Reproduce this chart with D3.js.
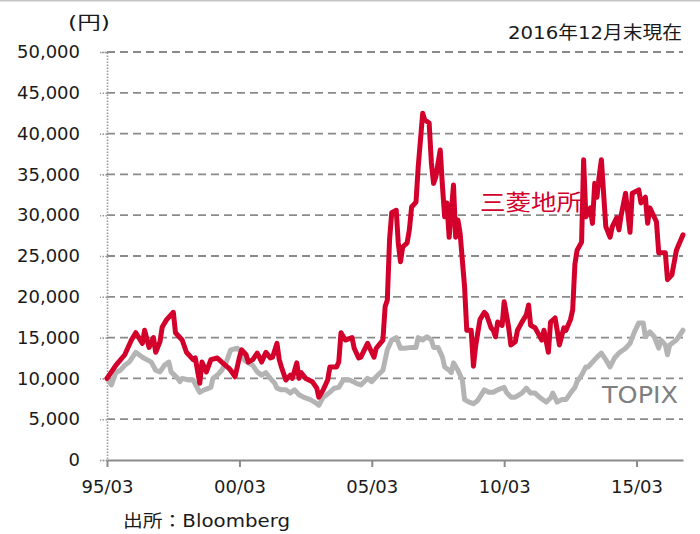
<!DOCTYPE html>
<html>
<head>
<meta charset="utf-8">
<script src="https://cdn.jsdelivr.net/npm/d3@7/dist/d3.min.js"></script>
<style>
  html, body { margin: 0; padding: 0; background: #fff; }
  svg { display: block; font-family: "DejaVu Sans", "Noto Sans CJK JP", sans-serif; }
</style>
</head>
<body>
<svg id="chart" width="700" height="534"></svg>
<script>
// ---- data ----
const estateLabel = "三菱地所";
const topixLabel = "TOPIX";
const unitLabel = "(円)";
const asOfLabel = "2016年12月末現在";
const sourceLabel = "出所：Bloomberg";

const yTicks = [0, 5000, 10000, 15000, 20000, 25000, 30000, 35000, 40000, 45000, 50000];
const xTicks = ["1995-03", "2000-03", "2005-03", "2010-03", "2015-03"];

const estateSeries = [
["1995-03",10000],["1995-07",11600],["1995-11",12900],["1996-02",14700],["1996-04",15600],["1996-07",14300],["1996-08",15900],["1996-10",13800],["1996-12",15000],["1997-01",13200],["1997-03",14500],["1997-04",16300],["1997-06",17200],["1997-09",18100],["1997-10",15600],["1998-01",14700],["1998-03",13200],["1998-06",12300],["1998-07",12500],["1998-09",9400],["1998-10",12000],["1998-12",10800],["1999-02",12300],["1999-05",12500],["1999-07",12000],["1999-10",11300],["1999-11",11000],["2000-01",10200],["2000-03",12600],["2000-04",13500],["2000-06",12900],["2000-07",12000],["2000-09",12300],["2000-11",13100],["2000-12",12600],["2001-01",12000],["2001-03",13200],["2001-05",12500],["2001-06",12600],["2001-08",14300],["2001-09",12300],["2001-10",11400],["2001-12",9800],["2002-02",10400],["2002-03",10000],["2002-05",11900],["2002-06",10000],["2002-07",10700],["2002-09",10000],["2002-12",9600],["2003-02",8800],["2003-03",7700],["2003-05",8600],["2003-07",9800],["2003-08",11400],["2003-11",11400],["2003-12",12000],["2004-01",15600],["2004-03",14700],["2004-06",15000],["2004-07",13700],["2004-09",12500],["2004-10",12600],["2005-01",14300],["2005-02",13700],["2005-04",12600],["2005-05",13700],["2005-08",14700],["2005-09",18800],["2005-10",19600],["2005-11",27000],["2005-12",30300],["2006-02",30600],["2006-03",26600],["2006-04",24300],["2006-05",26100],["2006-07",26600],["2006-08",28200],["2006-09",31000],["2006-11",31600],["2006-12",35900],["2007-02",42500],["2007-03",41700],["2007-05",41300],["2007-06",36400],["2007-07",33900],["2007-08",34700],["2007-10",38000],["2007-11",33500],["2007-12",29800],["2008-01",31500],["2008-02",27300],["2008-03",30300],["2008-04",33700],["2008-05",27300],["2008-06",29400],["2008-07",27800],["2008-09",21200],["2008-10",15900],["2008-12",15900],["2009-01",11500],["2009-02",14000],["2009-04",17200],["2009-06",18100],["2009-07",17800],["2009-09",16200],["2009-10",15900],["2009-11",15100],["2009-12",16900],["2010-02",16500],["2010-03",19400],["2010-05",16300],["2010-06",14100],["2010-08",14500],["2010-09",15900],["2010-11",16900],["2011-01",17800],["2011-02",19000],["2011-03",16500],["2011-05",16200],["2011-06",15700],["2011-08",14700],["2011-09",15900],["2011-11",13200],["2011-12",16900],["2012-02",17400],["2012-03",15900],["2012-04",14100],["2012-06",16200],["2012-07",15900],["2012-09",17200],["2012-10",18400],["2012-11",24000],["2012-12",25700],["2013-02",26700],["2013-03",36800],["2013-04",29800],["2013-06",30900],["2013-07",29000],["2013-08",33900],["2013-09",32200],["2013-10",34700],["2013-11",36800],["2014-01",28600],["2014-03",27300],["2014-04",28600],["2014-06",29700],["2014-07",28200],["2014-08",30000],["2014-10",32700],["2014-12",27900],["2015-01",32700],["2015-04",33100],["2015-05",31500],["2015-07",32200],["2015-08",29000],["2015-09",30900],["2015-12",29200],["2016-01",25400],["2016-04",25400],["2016-05",22100],["2016-07",22700],["2016-09",25700],["2016-12",27600]
];

const topixSeries = [
["1995-03",10000],["1995-05",9200],["1995-07",10700],["1995-09",11000],["1995-11",11600],["1996-01",12000],["1996-04",13200],["1996-07",12600],["1996-09",12300],["1996-11",12000],["1997-01",11000],["1997-03",10800],["1997-05",11600],["1997-07",12000],["1997-08",10800],["1997-11",10000],["1997-12",9600],["1998-01",10000],["1998-04",9800],["1998-06",9800],["1998-08",8800],["1998-09",8300],["1998-11",8600],["1999-02",8900],["1999-03",10000],["1999-05",10400],["1999-07",11000],["1999-09",12000],["1999-11",13500],["2000-02",13700],["2000-04",13200],["2000-05",12300],["2000-07",11900],["2000-09",11600],["2000-11",10800],["2001-01",10400],["2001-03",10700],["2001-05",10000],["2001-07",9400],["2001-08",8800],["2001-10",8600],["2001-12",8600],["2002-02",8200],["2002-04",8600],["2002-06",8000],["2002-08",7700],["2002-11",7400],["2003-01",7100],["2003-03",6700],["2003-05",7700],["2003-08",8300],["2003-10",8800],["2003-12",8900],["2004-02",9800],["2004-05",9800],["2004-08",9400],["2004-10",9200],["2005-01",10000],["2005-03",9600],["2005-05",10200],["2005-08",11000],["2005-10",13500],["2005-12",14700],["2006-02",15000],["2006-04",13700],["2006-06",13700],["2006-09",13800],["2006-11",13800],["2006-12",15000],["2007-02",14700],["2007-04",15100],["2007-06",14700],["2007-07",13800],["2007-09",13800],["2007-11",12600],["2007-12",11400],["2008-02",11000],["2008-03",10700],["2008-04",11900],["2008-06",11000],["2008-08",9800],["2008-09",7400],["2008-11",7100],["2009-01",6900],["2009-03",7300],["2009-06",8600],["2009-08",8300],["2009-10",8300],["2009-12",8600],["2010-03",8900],["2010-04",8300],["2010-06",7700],["2010-08",7700],["2010-11",8200],["2011-01",8800],["2011-03",8200],["2011-05",8200],["2011-07",7700],["2011-10",7100],["2011-12",7600],["2012-01",8200],["2012-03",7100],["2012-05",7400],["2012-07",7400],["2012-09",8200],["2012-11",8900],["2012-12",9600],["2013-02",10400],["2013-04",11400],["2013-05",11400],["2013-07",12000],["2013-09",12600],["2013-11",13100],["2014-01",12300],["2014-03",11400],["2014-05",12500],["2014-07",13100],["2014-10",13700],["2014-12",14300],["2015-02",15700],["2015-04",16800],["2015-06",16800],["2015-07",15100],["2015-09",15700],["2015-11",15100],["2016-01",13700],["2016-02",14700],["2016-04",14100],["2016-05",12900],["2016-06",14100],["2016-09",14700],["2016-12",15900]
];

const xStart = "1995-03";
const xEnd = "2016-12";

// ---- drawing ----
const parse = d3.timeParse("%Y-%m");
const svg = d3.select("#chart");

const mLeft = 107, mRight = 683, mTop = 52, mBottom = 460;
const x = d3.scaleTime().domain([parse(xStart), parse(xEnd)]).range([mLeft, mRight]);
const y = d3.scaleLinear().domain([0, 50000]).range([mBottom, mTop]);

const RED = "#d3002c";
const GRAY = "#b4b4b4";
const TEXT = "#1a1a1a";

// top border line
svg.append("line").attr("x1", 0).attr("x2", 700).attr("y1", 0.5).attr("y2", 0.5)
  .attr("stroke", "#c4c4c4").attr("stroke-width", 2);

// gridlines
svg.append("g").selectAll("line").data(yTicks.filter(v => v > 0)).join("line")
  .attr("x1", mLeft).attr("x2", mRight)
  .attr("y1", d => y(d)).attr("y2", d => y(d))
  .attr("stroke", "#8a8a8a").attr("stroke-width", 1.8)
  .attr("stroke-dasharray", "8,5");

// y axis (dotted)
const yAxis = svg.append("g").attr("transform", `translate(${mLeft},0)`)
  .call(d3.axisLeft(y).tickValues(yTicks).tickFormat(d3.format(",")).tickSize(7).tickPadding(20));
yAxis.select(".domain").attr("stroke", "#9a9a9a").attr("stroke-width", 1.6).attr("stroke-dasharray", "1.5,1.5");
yAxis.selectAll(".tick line").attr("stroke", "#9a9a9a").attr("stroke-width", 1.6).attr("stroke-dasharray", "1.5,1.5");
yAxis.selectAll(".tick text").attr("fill", TEXT).style("font-size", "18px")
  .style("font-family", "'DejaVu Sans', sans-serif");

// x axis
const xAxis = svg.append("g").attr("transform", `translate(0,${mBottom})`)
  .call(d3.axisBottom(x).tickValues(xTicks.map(parse)).tickFormat(d3.timeFormat("%y/%m")).tickSize(7).tickPadding(13).tickSizeOuter(0));
xAxis.select(".domain").attr("stroke", "#8a8a8a").attr("stroke-width", 2);
xAxis.selectAll(".tick line").attr("stroke", "#8a8a8a").attr("stroke-width", 2);
xAxis.selectAll(".tick text").attr("fill", TEXT).style("font-size", "18px")
  .style("font-family", "'DejaVu Sans', sans-serif");

// lines
const line = d3.line().x(d => x(parse(d[0]))).y(d => y(d[1])).curve(d3.curveLinear);
svg.append("path").datum(topixSeries).attr("d", line)
  .attr("fill", "none").attr("stroke", GRAY).attr("stroke-width", 5)
  .attr("stroke-linejoin", "round").attr("stroke-linecap", "round");
svg.append("path").datum(estateSeries).attr("d", line)
  .attr("fill", "none").attr("stroke", RED).attr("stroke-width", 5)
  .attr("stroke-linejoin", "round").attr("stroke-linecap", "round");

// texts
function txt(s, xx, yy, size, color, len, anchor) {
  const t = svg.append("text").attr("x", xx).attr("y", yy).text(s)
    .attr("fill", color).style("font-size", size + "px")
    .attr("text-anchor", anchor || "start");
  if (len) t.attr("textLength", len).attr("lengthAdjust", "spacingAndGlyphs");
  return t;
}
txt(unitLabel, 68, 29, 18, TEXT, 42);
txt(asOfLabel, 508, 39, 18, TEXT, 174);
txt(sourceLabel, 123, 527, 17, TEXT, 167);
txt(estateLabel, 480, 210, 22, RED, 102);
txt(topixLabel, 602, 403, 23, "#7f7f7f", 76);
</script>
</body>
</html>
